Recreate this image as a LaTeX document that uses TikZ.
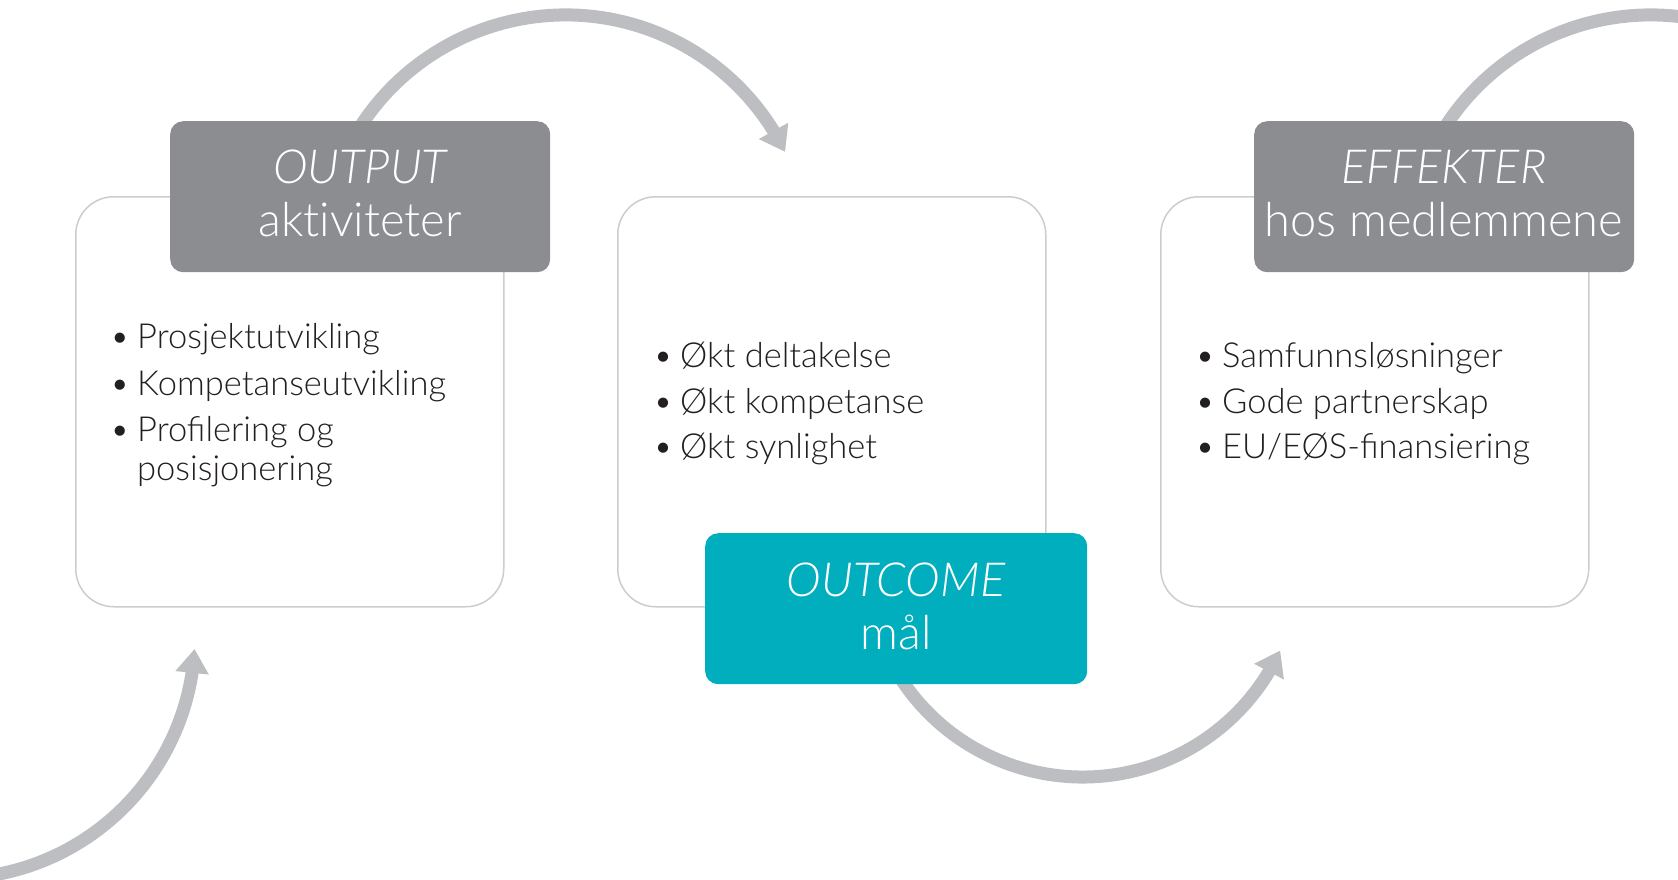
\documentclass[tikz,border=0pt]{standalone}
\usepackage{fontspec}
\setmainfont{Lato Light}[ItalicFont={Lato Light Italic}]
\usetikzlibrary{arrows.meta,bending}
\definecolor{arrowgray}{RGB}{189,190,194}
\definecolor{headgray}{RGB}{139,141,145}
\definecolor{outteal}{RGB}{0,174,190}
\definecolor{boxline}{RGB}{205,205,205}
\definecolor{textdark}{RGB}{35,31,32}
\tikzset{
  flow/.style={draw=arrowgray, line width=13pt, -{Triangle[width=32pt,length=24pt]}},
  panel/.style={draw=boxline, line width=1.5pt, fill=white, rounded corners=38pt,
    minimum width=428pt, minimum height=410pt, anchor=north west, inner sep=0pt},
  header/.style={rounded corners=13pt, minimum width=380pt, minimum height=151pt,
    anchor=north west, inner sep=0pt},
  htext/.style={anchor=base, inner sep=0pt, text=white, font=\fontsize{47}{52}\selectfont},
  bul/.style={anchor=base, inner sep=0pt, text=textdark, font=\fontsize{34.5}{40}\selectfont},
  itm/.style={anchor=base west, inner sep=0pt, text=textdark, font=\fontsize{34.5}{40}\selectfont}
}
\begin{document}
\begin{tikzpicture}[x=1pt,y=-1pt]
\useasboundingbox (0,0) rectangle (1678,879);
\clip (0,0) rectangle (1678,879);

% arrow start points
\coordinate (a1s) at (353.8,137.2);
\coordinate (a2s) at (1438.8,137.2);
\coordinate (a3s) at (-47.8,878.5);
\coordinate (a4s) at (894.4,668.3);

\draw[flow] (a1s) arc[start angle=-150, end angle=-26.1, radius=244.5];
\draw[flow] (a2s) arc[start angle=-150, end angle=-26.1, radius=244.5];
\draw[flow] (a3s) arc[start angle=90, end angle=3.1, radius=242.7];
\draw[flow] (a4s) arc[start angle=150, end angle=24.7, radius=217.4];

% panels
\node[panel] (p1) at (75,196) {};
\node[panel] (p2) at (617,196) {};
\node[panel] (p3) at (1160,196) {};

% headers
\node[header, fill=headgray] (h1) at (170,121) {};
\node[header, fill=headgray] (h3) at (1254,121) {};
\node[header, fill=outteal, minimum width=382pt] (h2) at (705,533) {};

\node[htext] (h1a) at (360,183) {\itshape OUTPUT};
\node[htext] (h1b) at (360,236) {akt\kern0pt iviteter};
\node[htext] (h3a) at (1444,183) {\itshape EFFEKTER};
\node[htext] (h3b) at (1444,236) {hos medlemmene};
\node[htext] (h2a) at (896,596) {\itshape OUTCOME};
\node[htext] (h2b) at (896,649) {mål};

% panel 1 items
\node[bul] (b11) at (120,348) {\textbullet};
\node[itm] (t11) at (137,348) {Prosjektutvikling};
\node[bul] (b12) at (120,395) {\textbullet};
\node[itm] (t12) at (137,395) {Kompetanseutvikling};
\node[bul] (b13) at (120,441) {\textbullet};
\node[itm] (t13) at (137,441) {Profilering og};
\node[itm] (t14) at (137,480) {posisjonering};

% panel 2 items
\node[bul] (b21) at (663,367) {\textbullet};
\node[itm] (t21) at (680,367) {Økt deltakelse};
\node[bul] (b22) at (663,413) {\textbullet};
\node[itm] (t22) at (680,413) {Økt kompetanse};
\node[bul] (b23) at (663,458) {\textbullet};
\node[itm] (t23) at (680,458) {Økt synlighet};

% panel 3 items
\node[bul] (b31) at (1205,367) {\textbullet};
\node[itm] (t31) at (1222,367) {Samfunnsløsninger};
\node[bul] (b32) at (1205,413) {\textbullet};
\node[itm] (t32) at (1222,413) {Gode partnerskap};
\node[bul] (b33) at (1205,458) {\textbullet};
\node[itm] (t33) at (1222,458) {EU/EØS-finansiering};
\end{tikzpicture}
\end{document}
